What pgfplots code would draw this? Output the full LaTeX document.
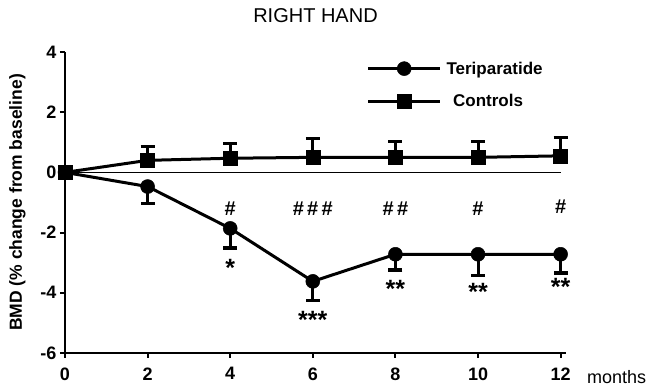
\documentclass[border=0pt]{standalone}
\usepackage{pgfplots}
\pgfplotsset{compat=1.18}
\usepackage{fontspec}
\setmainfont{Liberation Sans}
\begin{document}
\begin{tikzpicture}
\useasboundingbox (-65pt,-37pt) rectangle (583pt,353pt);
\begin{axis}[
  at={(0,0)}, anchor=south west,
  scale only axis, width=501pt, height=301pt,
  xmin=0, xmax=12.13, ymin=-6, ymax=4,
  axis x line=bottom, axis y line=left,
  axis line style={-, line width=2pt},
  every tick/.style={line width=2pt, black},
  tick align=outside, major tick length=5pt,
  xtick={0,2,...,12}, ytick={-6,-4,...,4},
  /pgf/number format/assume math mode=true,
  ticklabel style={font=\fontsize{18}{21}\selectfont\bfseries},
  xticklabel style={yshift=-6pt},
  ylabel={BMD (\% change from baseline)},
  ylabel style={font=\fontsize{17.5}{20}\selectfont\bfseries, at={(axis description cs:0,0.5)}, anchor=south, yshift=36pt},
  title={RIGHT HAND},
  title style={font=\fontsize{20}{24}\selectfont, at={(axis description cs:0.5,1)}, anchor=base, yshift=23pt},
  clip=false,
  legend style={draw=none, fill=none, at={(axis cs:7.3,3.75)}, anchor=north west, font=\fontsize{17}{20}\selectfont\bfseries, row sep=15pt, inner sep=0pt},
  legend cell align=left,
  legend image code/.code={\draw[mark repeat=2,mark phase=2,#1] plot coordinates {(0pt,0pt) (36pt,0pt) (72pt,0pt)};},
]
\addplot[line width=1.6pt, no marks, forget plot] coordinates {(0,0) (12,0)};
\addplot[black, line width=3pt, mark=*, mark size=7pt, mark options={solid, line width=0.5pt},
  error bars/.cd, y dir=minus, y explicit,
  error bar style={line width=3pt},
  error mark options={line width=3.5pt, mark size=7pt, rotate=90}]
  coordinates {
  (0,0) -= (0,0)
  (2,-0.47) -= (0,0.56)
  (4,-1.86) -= (0,0.66)
  (6,-3.62) -= (0,0.63)
  (8,-2.72) -= (0,0.53)
  (10,-2.72) -= (0,0.70)
  (12,-2.72) -= (0,0.63)
  };
\addlegendentry{\,Teriparatide}
\addplot[black, line width=3pt, mark=square*, mark size=7pt, mark options={solid, line width=0.5pt},
  error bars/.cd, y dir=plus, y explicit,
  error bar style={line width=3pt},
  error mark options={line width=3.5pt, mark size=7pt, rotate=90}]
  coordinates {
  (0,0) += (0,0)
  (2,0.40) += (0,0.46)
  (4,0.47) += (0,0.49)
  (6,0.50) += (0,0.63)
  (8,0.50) += (0,0.53)
  (10,0.50) += (0,0.53)
  (12,0.55) += (0,0.61)
  };
\addlegendentry{\ \ Controls}
\begin{scope}[every node/.style={font=\fontsize{20}{24}\selectfont\bfseries}]
\node at (axis cs:4,-1.2) {\#};
\node at (axis cs:6,-1.2) {\#\,\#\,\#};
\node at (axis cs:8,-1.2) {\#\,\#};
\node at (axis cs:10,-1.2) {\#};
\node at (axis cs:12,-1.15) {\#};
\end{scope}
\begin{scope}[every node/.style={font=\fontsize{25}{28}\selectfont\bfseries, anchor=center, yshift=-5pt}]
\node at (axis cs:4,-3.0) {*};
\node at (axis cs:6,-4.75) {***};
\node at (axis cs:8,-3.72) {**};
\node at (axis cs:10,-3.8) {**};
\node at (axis cs:12,-3.65) {**};
\end{scope}
\node[anchor=base west, font=\fontsize{18}{21}\selectfont] at (axis cs:12,-6) [xshift=23pt, yshift=-31pt] {months};
\end{axis}
\end{tikzpicture}
\end{document}
